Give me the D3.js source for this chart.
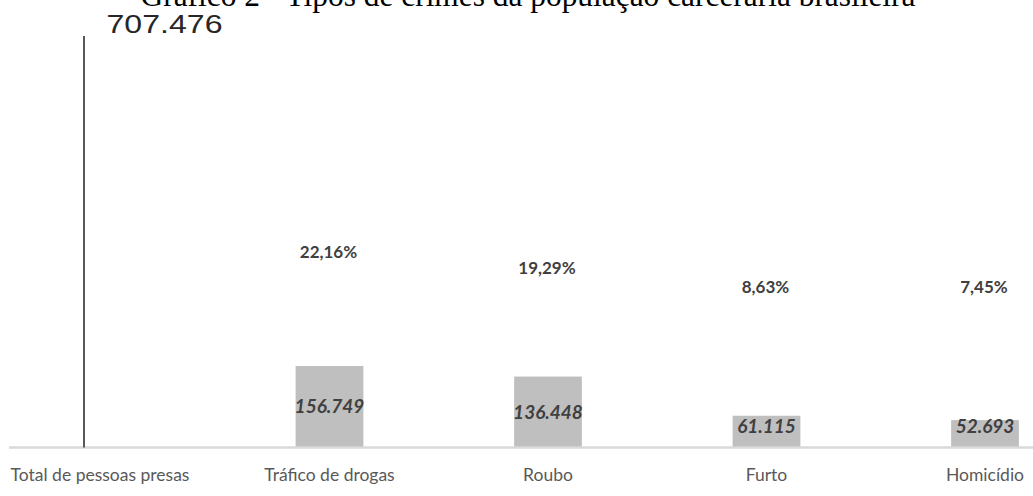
<!DOCTYPE html>
<html>
<head>
<meta charset="utf-8">
<script src="https://cdn.jsdelivr.net/npm/d3@7"></script>
<style>
  html, body { margin: 0; padding: 0; background: #fff; }
  svg { display: block; }
</style>
</head>
<body>
<svg id="chart" width="1033" height="496"></svg>
<script>
// ---- data ----
const title = "Gráfico 2 - Tipos de crimes da população carcerária brasileira";
const categories = ["Total de pessoas presas", "Tráfico de drogas", "Roubo", "Furto", "Homicídio"];
const values = [707476, 156749, 136448, 61115, 52693];
const valueLabels = ["707.476", "156.749", "136.448", "61.115", "52.693"];
const percentLabels = [null, "22,16%", "19,29%", "8,63%", "7,45%"];

// ---- layout (not data) ----
const W = 1033, H = 496;
const baseline = 447.5;
const pctLabelY = [null, 258, 274, 293, 293];

const svg = d3.select("#chart");

const x = d3.scaleBand()
  .domain(categories)
  .range([1.75, 1094.25])
  .paddingInner(0.69)
  .paddingOuter(0.345);

const y = d3.scaleLinear().domain([0, values[0]]).range([baseline, 79.6]);
// the total bar is drawn as a thin, extended line (broken scale in the original)
const yTotal = d3.scaleLinear().domain([0, values[0]]).range([baseline, 36]);

const cx = c => x(c) + x.bandwidth() / 2;

// title (partially cut off at top, as in the original)
svg.append("text")
  .attr("x", 528).attr("y", 6)
  .attr("text-anchor", "middle")
  .attr("font-family", "Liberation Serif, Times New Roman, serif")
  .attr("font-size", 31)
  .attr("textLength", 775)
  .attr("lengthAdjust", "spacingAndGlyphs")
  .attr("fill", "#000")
  .text(title);

// baseline axis
svg.append("line")
  .attr("x1", 9).attr("x2", W)
  .attr("y1", baseline).attr("y2", baseline)
  .attr("stroke", "#d9d9d9").attr("stroke-width", 2.5);

// total line
const totalX = cx(categories[0]) - 27;
svg.append("line")
  .attr("x1", totalX).attr("x2", totalX)
  .attr("y1", baseline).attr("y2", yTotal(values[0]))
  .attr("stroke", "#595959").attr("stroke-width", 2);

svg.append("text")
  .attr("x", totalX + 22.5).attr("y", 33)
  .attr("font-family", "Liberation Sans, Arial, sans-serif")
  .attr("font-size", 25)
  .attr("textLength", 116)
  .attr("lengthAdjust", "spacingAndGlyphs")
  .attr("fill", "#262626")
  .text(valueLabels[0]);

// crime bars
const crimes = categories.slice(1).map((c, i) => ({c, v: values[i + 1], lbl: valueLabels[i + 1], pct: percentLabels[i + 1], py: pctLabelY[i + 1]}));

svg.selectAll("rect.bar").data(crimes).enter().append("rect")
  .attr("class", "bar")
  .attr("x", d => x(d.c))
  .attr("width", x.bandwidth())
  .attr("y", d => y(d.v))
  .attr("height", d => baseline - 1 - y(d.v))
  .attr("fill", "#bfbfbf");

svg.selectAll("text.val").data(crimes).enter().append("text")
  .attr("class", "val")
  .attr("x", d => cx(d.c))
  .attr("y", d => Math.min((y(d.v) + baseline) / 2, baseline - 21.5) + 6.5)
  .attr("text-anchor", "middle")
  .attr("font-family", "Lato, Open Sans, sans-serif")
  .attr("font-weight", "bold")
  .attr("font-style", "italic")
  .attr("font-size", 19)
  .attr("fill", "#404040")
  .text(d => d.lbl);

svg.selectAll("text.pct").data(crimes).enter().append("text")
  .attr("class", "pct")
  .attr("x", d => cx(d.c) - 1)
  .attr("y", d => d.py)
  .attr("text-anchor", "middle")
  .attr("font-family", "Lato, Open Sans, sans-serif")
  .attr("font-weight", "bold")
  .attr("font-size", 17)
  .attr("fill", "#404040")
  .text(d => d.pct);

// category labels
svg.selectAll("text.cat").data(categories).enter().append("text")
  .attr("class", "cat")
  .attr("x", (d, i) => cx(d) + (i === 0 ? -11 : 0))
  .attr("y", 481)
  .attr("text-anchor", "middle")
  .attr("font-family", "Lato, Open Sans, sans-serif")
  .attr("font-size", 17.5)
  .attr("fill", "#595959")
  .text(d => d);
</script>
</body>
</html>
